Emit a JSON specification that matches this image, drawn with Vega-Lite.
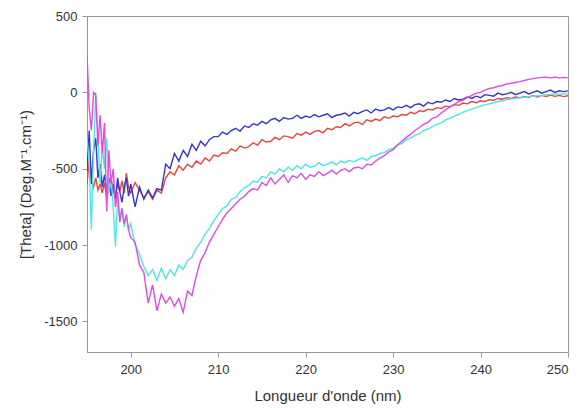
{
  "$schema": "https://vega.github.io/schema/vega-lite/v6.json",
  "width": 481,
  "height": 336,
  "autosize": "none",
  "padding": {"left": 87, "top": 16, "right": 12, "bottom": 58},
  "background": "white",
  "config": {
    "view": {"stroke": "#999999", "strokeWidth": 1},
    "font": "Liberation Sans",
    "axis": {"grid": false, "domainColor": "#999999", "tickColor": "#999999", "tickSize": 5, "labelColor": "#333333", "titleColor": "#333333", "labelFontSize": 13, "titleFontSize": 15, "titleFontWeight": "normal", "labelFont": "Liberation Sans", "titleFont": "Liberation Sans"}
  },
  "data": {"values": [
    {"x":195.0,"b":-520,"r":-600,"c":-300,"m":250},
    {"x":195.25,"b":-250,"r":-450,"c":-450,"m":-100},
    {"x":195.5,"b":-600,"r":-580,"c":-900,"m":-250},
    {"x":195.75,"b":-380,"r":-620,"c":-400,"m":0},
    {"x":196.0,"b":-300,"r":-560,"c":0,"m":-20},
    {"x":196.25,"b":-560,"r":-640,"c":-300,"m":-350},
    {"x":196.5,"b":-470,"r":-600,"c":-600,"m":-150},
    {"x":196.75,"b":-620,"r":-660,"c":-350,"m":-400},
    {"x":197.0,"b":-540,"r":-590,"c":-500,"m":-200},
    {"x":197.25,"b":-650,"r":-700,"c":-300,"m":-780},
    {"x":197.5,"b":-560,"r":-620,"c":-650,"m":-380},
    {"x":197.75,"b":-680,"r":-560,"c":-550,"m":-600},
    {"x":198.0,"b":-600,"r":-640,"c":-750,"m":-500},
    {"x":198.25,"b":-700,"r":-690,"c":-1010,"m":-750},
    {"x":198.5,"b":-560,"r":-600,"c":-700,"m":-650},
    {"x":198.75,"b":-650,"r":-650,"c":-820,"m":-850},
    {"x":199.0,"b":-720,"r":-580,"c":-760,"m":-760},
    {"x":199.25,"b":-620,"r":-660,"c":-880,"m":-860},
    {"x":199.5,"b":-560,"r":-530,"c":-800,"m":-800},
    {"x":199.75,"b":-680,"r":-620,"c":-900,"m":-900},
    {"x":200.0,"b":-600,"r":-660,"c":-860,"m":-950},
    {"x":200.5,"b":-750,"r":-590,"c":-1000,"m":-980},
    {"x":201.0,"b":-620,"r":-640,"c":-1060,"m":-1130},
    {"x":201.5,"b":-700,"r":-690,"c":-1140,"m":-1180},
    {"x":202.0,"b":-640,"r":-650,"c":-1200,"m":-1380},
    {"x":202.5,"b":-690,"r":-700,"c":-1160,"m":-1260},
    {"x":203.0,"b":-630,"r":-640,"c":-1230,"m":-1430},
    {"x":203.5,"b":-640,"r":-660,"c":-1150,"m":-1320},
    {"x":204.0,"b":-470,"r":-560,"c":-1220,"m":-1380},
    {"x":204.5,"b":-500,"r":-520,"c":-1160,"m":-1340},
    {"x":205.0,"b":-400,"r":-540,"c":-1200,"m":-1400},
    {"x":205.5,"b":-450,"r":-480,"c":-1130,"m":-1350},
    {"x":206.0,"b":-380,"r":-510,"c":-1160,"m":-1440},
    {"x":206.5,"b":-420,"r":-470,"c":-1100,"m":-1300},
    {"x":207.0,"b":-340,"r":-490,"c":-1080,"m":-1330},
    {"x":207.5,"b":-380,"r":-450,"c":-1020,"m":-1200},
    {"x":208.0,"b":-320,"r":-470,"c":-980,"m":-1100},
    {"x":208.5,"b":-350,"r":-430,"c":-930,"m":-1050},
    {"x":209.0,"b":-310,"r":-450,"c":-890,"m":-980},
    {"x":209.5,"b":-290,"r":-410,"c":-840,"m":-930},
    {"x":210.0,"b":-290,"r":-420,"c":-800,"m":-880},
    {"x":210.5,"b":-260,"r":-395,"c":-760,"m":-830},
    {"x":211.0,"b":-275,"r":-400,"c":-745,"m":-790},
    {"x":211.5,"b":-250,"r":-370,"c":-700,"m":-760},
    {"x":212.0,"b":-235,"r":-385,"c":-690,"m":-730},
    {"x":212.5,"b":-255,"r":-350,"c":-650,"m":-700},
    {"x":213.0,"b":-220,"r":-365,"c":-625,"m":-680},
    {"x":213.5,"b":-230,"r":-355,"c":-610,"m":-650},
    {"x":214.0,"b":-205,"r":-330,"c":-580,"m":-630},
    {"x":214.5,"b":-215,"r":-345,"c":-590,"m":-640},
    {"x":215.0,"b":-190,"r":-310,"c":-550,"m":-590},
    {"x":215.5,"b":-205,"r":-325,"c":-560,"m":-610},
    {"x":216.0,"b":-180,"r":-320,"c":-520,"m":-560},
    {"x":216.5,"b":-170,"r":-295,"c":-535,"m":-600},
    {"x":217.0,"b":-190,"r":-310,"c":-500,"m":-570},
    {"x":217.5,"b":-165,"r":-285,"c":-520,"m":-540},
    {"x":218.0,"b":-175,"r":-290,"c":-490,"m":-590},
    {"x":218.5,"b":-170,"r":-300,"c":-510,"m":-545},
    {"x":219.0,"b":-150,"r":-270,"c":-480,"m":-560},
    {"x":219.5,"b":-170,"r":-280,"c":-500,"m":-530},
    {"x":220.0,"b":-155,"r":-260,"c":-470,"m":-570},
    {"x":220.5,"b":-165,"r":-275,"c":-490,"m":-540},
    {"x":221.0,"b":-145,"r":-255,"c":-485,"m":-550},
    {"x":221.5,"b":-160,"r":-250,"c":-460,"m":-520},
    {"x":222.0,"b":-150,"r":-265,"c":-480,"m":-545},
    {"x":222.5,"b":-140,"r":-235,"c":-470,"m":-530},
    {"x":223.0,"b":-165,"r":-245,"c":-455,"m":-510},
    {"x":223.5,"b":-150,"r":-225,"c":-475,"m":-535},
    {"x":224.0,"b":-145,"r":-230,"c":-450,"m":-510},
    {"x":224.5,"b":-135,"r":-205,"c":-460,"m":-500},
    {"x":225.0,"b":-155,"r":-220,"c":-445,"m":-520},
    {"x":225.5,"b":-130,"r":-200,"c":-455,"m":-495},
    {"x":226.0,"b":-140,"r":-195,"c":-440,"m":-490},
    {"x":226.5,"b":-125,"r":-210,"c":-430,"m":-500},
    {"x":227.0,"b":-115,"r":-180,"c":-445,"m":-470},
    {"x":227.5,"b":-135,"r":-190,"c":-420,"m":-475},
    {"x":228.0,"b":-110,"r":-175,"c":-415,"m":-450},
    {"x":228.5,"b":-120,"r":-185,"c":-400,"m":-430},
    {"x":229.0,"b":-115,"r":-160,"c":-395,"m":-415},
    {"x":229.5,"b":-100,"r":-170,"c":-375,"m":-390},
    {"x":230.0,"b":-115,"r":-155,"c":-365,"m":-375},
    {"x":230.5,"b":-95,"r":-160,"c":-345,"m":-345},
    {"x":231.0,"b":-100,"r":-145,"c":-335,"m":-320},
    {"x":231.5,"b":-85,"r":-150,"c":-310,"m":-295},
    {"x":232.0,"b":-100,"r":-130,"c":-300,"m":-275},
    {"x":232.5,"b":-80,"r":-140,"c":-280,"m":-250},
    {"x":233.0,"b":-75,"r":-120,"c":-270,"m":-230},
    {"x":233.5,"b":-90,"r":-125,"c":-250,"m":-210},
    {"x":234.0,"b":-65,"r":-110,"c":-240,"m":-195},
    {"x":234.5,"b":-75,"r":-115,"c":-225,"m":-170},
    {"x":235.0,"b":-60,"r":-100,"c":-210,"m":-160},
    {"x":235.5,"b":-65,"r":-105,"c":-200,"m":-135},
    {"x":236.0,"b":-50,"r":-90,"c":-180,"m":-115},
    {"x":236.5,"b":-60,"r":-95,"c":-170,"m":-95},
    {"x":237.0,"b":-40,"r":-80,"c":-155,"m":-80},
    {"x":237.5,"b":-50,"r":-85,"c":-145,"m":-60},
    {"x":238.0,"b":-45,"r":-70,"c":-130,"m":-50},
    {"x":238.5,"b":-30,"r":-75,"c":-120,"m":-35},
    {"x":239.0,"b":-40,"r":-60,"c":-110,"m":-20},
    {"x":239.5,"b":-25,"r":-68,"c":-100,"m":-5},
    {"x":240.0,"b":-35,"r":-55,"c":-90,"m":0},
    {"x":240.5,"b":-15,"r":-60,"c":-82,"m":15},
    {"x":241.0,"b":-20,"r":-48,"c":-75,"m":25},
    {"x":241.5,"b":-25,"r":-52,"c":-68,"m":30},
    {"x":242.0,"b":-5,"r":-40,"c":-60,"m":40},
    {"x":242.5,"b":-15,"r":-45,"c":-55,"m":45},
    {"x":243.0,"b":-10,"r":-35,"c":-48,"m":55},
    {"x":243.5,"b":0,"r":-40,"c":-42,"m":60},
    {"x":244.0,"b":-15,"r":-30,"c":-40,"m":65},
    {"x":244.5,"b":-5,"r":-35,"c":-35,"m":70},
    {"x":245.0,"b":5,"r":-28,"c":-32,"m":78},
    {"x":245.5,"b":-10,"r":-32,"c":-28,"m":85},
    {"x":246.0,"b":0,"r":-22,"c":-25,"m":90},
    {"x":246.5,"b":10,"r":-30,"c":-22,"m":95},
    {"x":247.0,"b":-5,"r":-20,"c":-20,"m":98},
    {"x":247.5,"b":5,"r":-27,"c":-15,"m":100},
    {"x":248.0,"b":15,"r":-18,"c":-15,"m":95},
    {"x":248.5,"b":0,"r":-26,"c":-10,"m":100},
    {"x":249.0,"b":10,"r":-20,"c":-12,"m":95},
    {"x":249.5,"b":5,"r":-28,"c":-8,"m":98},
    {"x":250.0,"b":10,"r":-22,"c":-10,"m":95}
  ]},
  "transform": [{"fold": ["r", "b", "c", "m"], "as": ["series", "value"]}],
  "mark": {"type": "line", "strokeWidth": 1.4, "clip": true},
  "encoding": {
    "x": {"field": "x", "type": "quantitative", "scale": {"domain": [195, 250], "nice": false, "zero": false},
      "axis": {"values": [200, 210, 220, 230, 240, 250], "title": "Longueur d'onde (nm)", "labelPadding": 6, "titlePadding": 12}},
    "y": {"field": "value", "type": "quantitative", "scale": {"domain": [-1700, 500], "nice": false, "zero": false},
      "axis": {"values": [-1500, -1000, -500, 0, 500], "labelExpr": "datum.value + ''", "title": "[Theta] (Deg.M⁻¹.cm⁻¹)", "labelPadding": 5, "titlePadding": 10}},
    "color": {"field": "series", "type": "nominal", "legend": null,
      "scale": {"domain": ["r", "b", "c", "m"], "range": ["#e8453c", "#3535d0", "#4de6e6", "#e24be2"]}},
    "order": {"field": "x", "type": "quantitative"}
  }
}
